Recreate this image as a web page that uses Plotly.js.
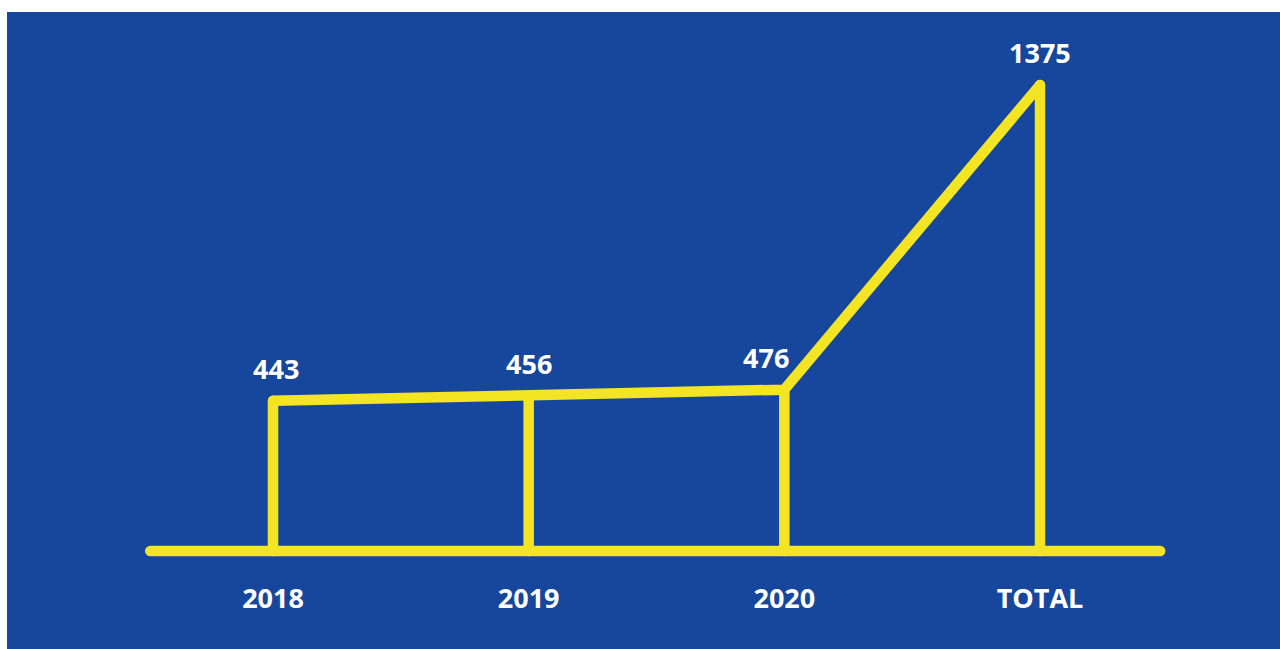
<!DOCTYPE html>
<html>
<head>
<meta charset="utf-8">
<script src="https://cdn.plot.ly/plotly-3.0.1.min.js"></script>
<style>
html,body{margin:0;padding:0;background:#fff;}
#chart{width:1280px;height:649px;}
.js-line, .shapelayer path{stroke-linecap:round !important;stroke-linejoin:round !important;}
</style>
</head>
<body>
<div id="chart"></div>
<script>
// Data
var categories = ["2018", "2019", "2020", "TOTAL"];
var values = [443, 456, 476, 1375];
var valueLabels = ["443", "456", "476", "1375"];

var YELLOW = "#F3E424";
var BLUE = "#17479D";

// vertical stems built from data
var stemX = [], stemY = [];
categories.forEach(function(c, i){
  stemX.push(c, c, null);
  stemY.push(0, values[i], null);
});

var traces = [
  {type:"scatter", mode:"lines", x:stemX, y:stemY, connectgaps:false,
   line:{color:YELLOW, width:10.5}, hoverinfo:"skip", showlegend:false},
  {type:"scatter", mode:"lines", x:categories, y:values,
   line:{color:YELLOW, width:10.5}, hoverinfo:"skip", showlegend:false}
];

var labelXShift = [3, 0, -18, 0];
var annotations = categories.map(function(c, i){
  return {x:i, y:values[i], xref:"x", yref:"y", text:valueLabels[i], showarrow:false,
    yanchor:"bottom", xanchor:"center", yshift:12, xshift:labelXShift[i],
    font:{family:"Open Sans, sans-serif", size:27, color:"#fff", weight:700}};
});

var layout = {
  width:1280, height:649,
  margin:{l:0, r:0, t:0, b:69, pad:0},
  paper_bgcolor:"#ffffff", plot_bgcolor:"rgba(0,0,0,0)",
  showlegend:false,
  xaxis:{type:"category", range:[-1.0678, 3.9387], showgrid:false, zeroline:false, showline:false,
    ticks:"", fixedrange:true,
    tickfont:{family:"Open Sans, sans-serif", size:27, color:"#fff", weight:700}},
  yaxis:{range:[-85.6, 1625.8], showgrid:false, zeroline:false, showline:false,
    showticklabels:false, ticks:"", fixedrange:true},
  shapes:[
    {type:"rect", xref:"paper", yref:"paper", x0:0.00547, x1:1, y0:-0.119, y1:0.9793,
     fillcolor:BLUE, line:{width:0}, layer:"below"},
    {type:"line", xref:"x", yref:"y", x0:-0.48, x1:3.47, y0:0, y1:0,
     line:{color:YELLOW, width:10.5}, layer:"below"}
  ],
  annotations:annotations
};

Plotly.newPlot("chart", traces, layout, {displayModeBar:false, staticPlot:true});
</script>
</body>
</html>
